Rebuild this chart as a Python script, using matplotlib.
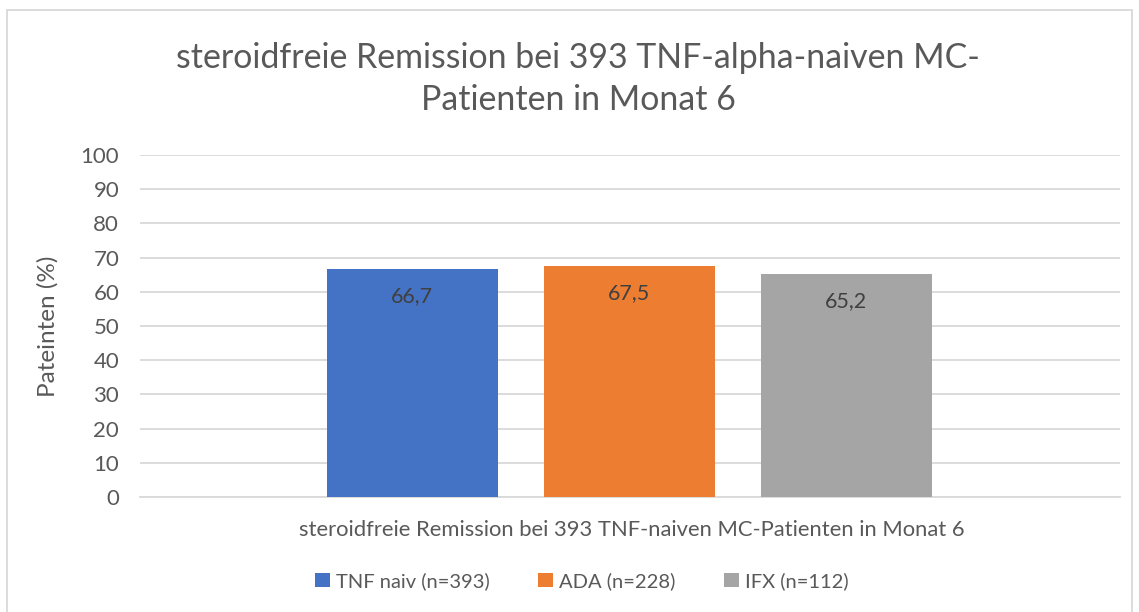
import matplotlib.pyplot as plt
import numpy as np
from matplotlib.patches import Rectangle

groups = ['TNF naiv (n=393)', 'ADA (n=228)', 'IFX (n=112)']
values = [66.7, 67.5, 65.2]
labels = ['66,7', '67,5', '65,2']
colors = ['#4472C4', '#ED7D31', '#A5A5A5']
yticks = [0, 10, 20, 30, 40, 50, 60, 70, 80, 90, 100]

plt.rcParams['font.family'] = ['Lato', 'DejaVu Sans']
txt = '#595959'

fig = plt.figure(figsize=(11.39, 6.12), dpi=100)
ax = fig.add_axes([140 / 1139, 1 - 497 / 612, 980 / 1139, 342 / 612])

x = np.arange(len(values))
bars = ax.bar(x, values, width=0.788, color=colors, label=groups, zorder=3)
for b, lab in zip(bars, labels):
    ax.text(b.get_x() + b.get_width() / 2, b.get_height() - 8, lab,
            ha='center', va='center', fontsize=15.5, color='#404040', zorder=4)

ax.set_xlim(-1.254, 3.262)
ax.set_ylim(0, 100)
ax.set_yticks(yticks)
ax.set_xticks([])
ax.grid(axis='y', color='#d9d9d9', linewidth=1.3, zorder=0)
for s in ['top', 'right', 'left']:
    ax.spines[s].set_visible(False)
ax.spines['bottom'].set_color('#d9d9d9')
ax.spines['bottom'].set_linewidth(1.3)
ax.tick_params(axis='y', length=0, labelsize=16, labelcolor=txt, pad=15)

ax.set_ylabel('Pateinten (%)', fontsize=17.5, color=txt)
ax.yaxis.set_label_coords(-0.083, 0.5)
ax.set_xlabel('steroidfreie Remission bei 393 TNF-naiven MC-Patienten in Monat 6',
              fontsize=15.8, color=txt)
ax.xaxis.set_label_coords(0.502, -0.066)

fig.text(578 / 1139, 1 - 79 / 612,
         'steroidfreie Remission bei 393 TNF-alpha-naiven MC-\nPatienten in Monat 6',
         ha='center', va='center', fontsize=24.4, color=txt, linespacing=1.36)

fig.legend(handles=bars, labels=groups, loc='center', ncol=3,
           bbox_to_anchor=(582 / 1139, 1 - 581 / 612), frameon=False,
           fontsize=14.5, labelcolor=txt, handlelength=0.75, handleheight=0.75,
           handletextpad=0.3, columnspacing=2.4)

fig.patches.append(Rectangle((7 / 1139, -0.05), 1125 / 1139, 1.05 - 10 / 612,
                             transform=fig.transFigure, fill=False,
                             edgecolor='#d9d9d9', linewidth=1.3))

fig.savefig('out.png', dpi=100)
